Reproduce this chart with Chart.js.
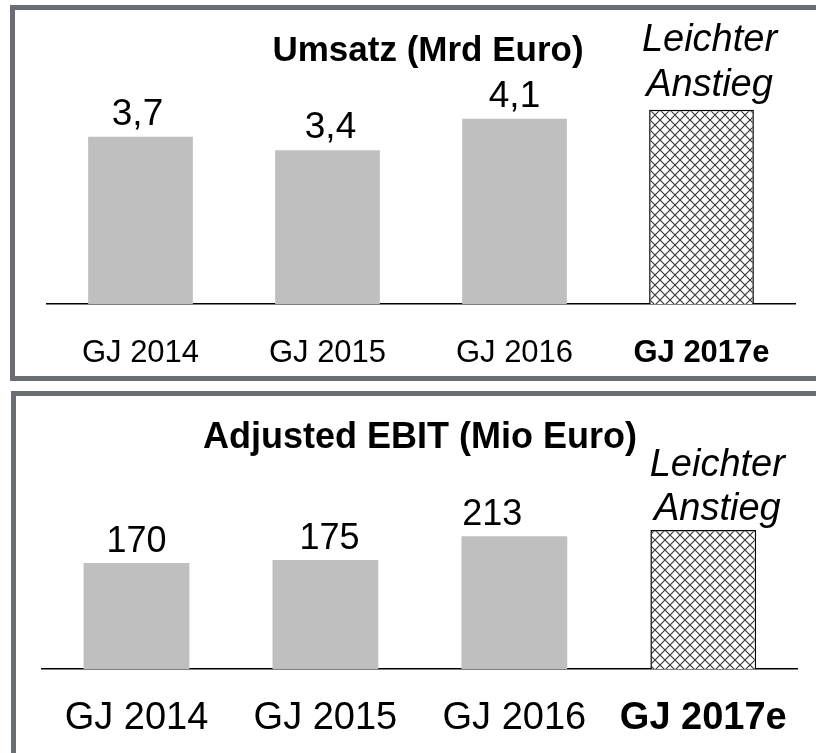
<!DOCTYPE html>
<html>
<head>
<meta charset="utf-8">
<script src="https://cdn.jsdelivr.net/npm/chart.js@4.4.1/dist/chart.umd.min.js"></script>
<style>
  html, body { margin: 0; padding: 0; background: #fff; width: 816px; height: 753px; overflow: hidden; }
  .wrap { position: absolute; left: 0; width: 816px; }
  .frame { position: absolute; border: 5px solid #6a6d71; box-sizing: border-box; pointer-events: none; }
</style>
</head>
<body>
<div class="wrap" style="top:0;height:385px;"><canvas id="c1" width="816" height="385"></canvas></div>
<div class="wrap" style="top:385px;height:368px;"><canvas id="c2" width="816" height="368"></canvas></div>
<div class="frame" style="left:10px;top:5px;width:830px;height:376px;"></div>
<div class="frame" style="left:11px;top:391px;width:830px;height:380px;"></div>
<script>
// ---- data ----
const categories = ['GJ 2014', 'GJ 2015', 'GJ 2016', 'GJ 2017e'];
const umsatzValues = [3.7, 3.4, 4.1, 4.3];
const umsatzLabels = ['3,7', '3,4', '4,1', 'Leichter\nAnstieg'];
const ebitValues = [170, 175, 213, 223];
const ebitLabels = ['170', '175', '213', 'Leichter\nAnstieg'];
const umsatzTitle = 'Umsatz (Mrd Euro)';
const ebitTitle = 'Adjusted EBIT (Mio Euro)';

const FONT = "'Liberation Sans', Arial, sans-serif";

function hatchPattern(ctx) {
  const t = document.createElement('canvas');
  t.width = 10; t.height = 10;
  const g = t.getContext('2d');
  g.fillStyle = '#fff';
  g.fillRect(0, 0, 10, 10);
  g.strokeStyle = '#3a3a3a';
  g.lineWidth = 1.2;
  g.beginPath();
  g.moveTo(0, 0); g.lineTo(10, 10);
  g.moveTo(10, 0); g.lineTo(0, 10);
  g.stroke();
  return ctx.createPattern(t, 'repeat');
}

const labelPlugin = {
  id: 'valueLabels',
  afterDatasetsDraw(chart, args, o) {
    const ctx = chart.ctx;
    const meta = chart.getDatasetMeta(0);
    ctx.save();
    ctx.textAlign = 'center';
    ctx.textBaseline = 'alphabetic';
    ctx.fillStyle = '#000';
    meta.data.forEach((bar, i) => {
      const lines = o.labels[i].split('\n');
      const note = lines.length > 1;
      ctx.font = (note ? 'italic ' + o.noteSize : o.size) + 'px ' + FONT;
      lines.forEach((ln, j) => {
        const y = bar.y - (note ? o.noteGap : o.gap) - (lines.length - 1 - j) * o.lineGap;
        ctx.fillText(ln, bar.x + o.dx[i], y);
      });
    });
    ctx.font = 'bold ' + o.titleSize + 'px ' + FONT;
    ctx.fillText(o.title, o.titleX, o.titleY);
    ctx.restore();
  }
};

function makeChart(id, values, labels, cfg) {
  const el = document.getElementById(id);
  const ctx = el.getContext('2d');
  const pat = hatchPattern(ctx);
  const n = values.length;
  return new Chart(ctx, {
    type: 'bar',
    data: {
      labels: categories,
      datasets: [{
        data: values,
        backgroundColor: values.map((v, i) => i === n - 1 ? pat : '#bfbfbf'),
        borderColor: values.map((v, i) => i === n - 1 ? '#000' : 'rgba(0,0,0,0)'),
        borderWidth: values.map((v, i) => i === n - 1 ? 1.5 : 0),
        barPercentage: 0.56,
        categoryPercentage: 1.0
      }]
    },
    options: {
      responsive: false,
      animation: false,
      events: [],
      layout: { padding: cfg.padding },
      plugins: {
        legend: { display: false },
        tooltip: { enabled: false },
        title: { display: false },
        valueLabels: Object.assign({ labels: labels }, cfg.lbl)
      },
      scales: {
        x: {
          grid: { display: false, drawTicks: false },
          border: { display: true, color: '#000', width: 1.5 },
          afterFit: (s) => { s.height = cfg.axisH; },
          ticks: {
            color: '#000',
            padding: cfg.tickPad,
            maxRotation: 0,
            autoSkip: false,
            font: (c) => ({ family: FONT, size: cfg.tickSize, weight: c.index === n - 1 ? 'bold' : 'normal' })
          }
        },
        y: { display: false, min: 0, max: cfg.ymax }
      }
    },
    plugins: [labelPlugin]
  });
}

makeChart('c1', umsatzValues, umsatzLabels, {
  padding: { left: 47, right: 21, top: 78, bottom: 10 },
  axisH: 71, tickPad: 31, tickSize: 31, ymax: 5,
  lbl: { size: 37, gap: 12, noteSize: 38, noteGap: 14, lineGap: 45, dx: [-3, 3, 0, 8],
         title: umsatzTitle, titleSize: 35, titleX: 428, titleY: 61 }
});

makeChart('c2', ebitValues, ebitLabels, {
  padding: { left: 42, right: 18, top: 97, bottom: 6 },
  axisH: 78, tickPad: 27, tickSize: 38, ymax: 300,
  lbl: { size: 36, gap: 11, noteSize: 38, noteGap: 10, lineGap: 44, dx: [0, 4, -22, 14],
         title: ebitTitle, titleSize: 36, titleX: 420, titleY: 63 }
});
</script>
</body>
</html>
